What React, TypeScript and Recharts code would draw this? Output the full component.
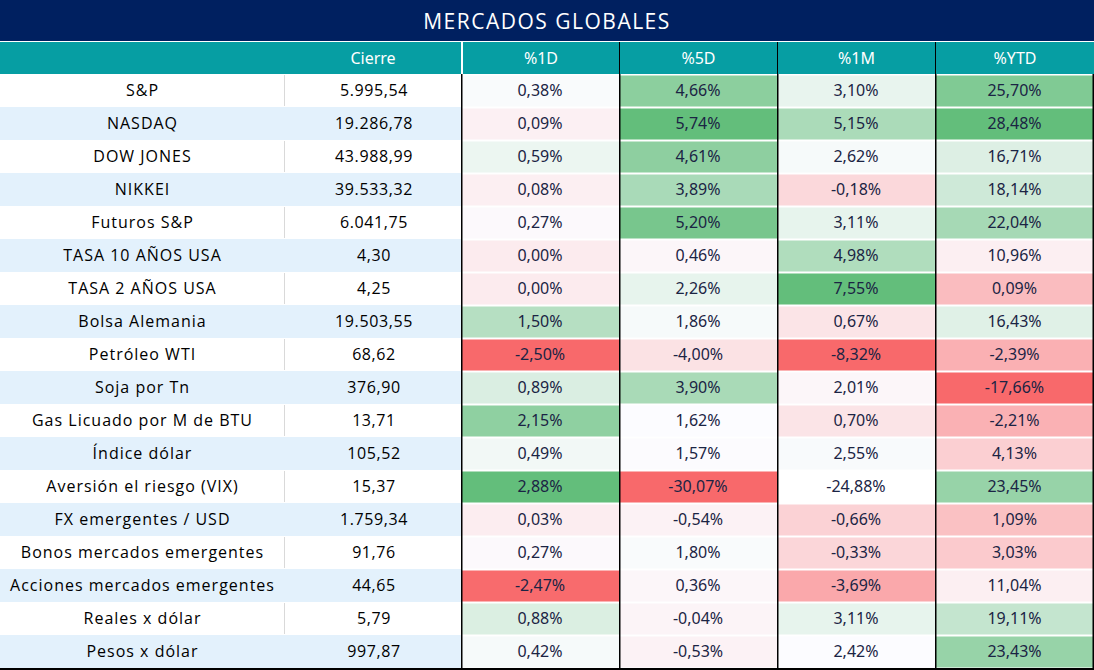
import React from 'react'
import { BarChart, Bar, XAxis, YAxis } from 'recharts'

// filas de la tabla
const labels = [
  'S&P', 'NASDAQ', 'DOW JONES', 'NIKKEI', 'Futuros S&P', 'TASA 10 AÑOS USA', 'TASA 2 AÑOS USA',
  'Bolsa Alemania', 'Petróleo WTI', 'Soja por Tn', 'Gas Licuado por M de BTU', 'Índice dólar',
  'Aversión el riesgo (VIX)', 'FX emergentes / USD', 'Bonos mercados emergentes',
  'Acciones mercados emergentes', 'Reales x dólar', 'Pesos x dólar',
]
const cierre = [
  5995.54, 19286.78, 43988.99, 39533.32, 6041.75, 4.3, 4.25, 19503.55, 68.62, 376.9,
  13.71, 105.52, 15.37, 1759.34, 91.76, 44.65, 5.79, 997.87,
]
const d1 = [0.38, 0.09, 0.59, 0.08, 0.27, 0.0, 0.0, 1.5, -2.5, 0.89, 2.15, 0.49, 2.88, 0.03, 0.27, -2.47, 0.88, 0.42]
const d5 = [4.66, 5.74, 4.61, 3.89, 5.2, 0.46, 2.26, 1.86, -4.0, 3.9, 1.62, 1.57, -30.07, -0.54, 1.8, 0.36, -0.04, -0.53]
const m1 = [3.1, 5.15, 2.62, -0.18, 3.11, 4.98, 7.55, 0.67, -8.32, 2.01, 0.7, 2.55, -24.88, -0.66, -0.33, -3.69, 3.11, 2.42]
const ytd = [25.7, 28.48, 16.71, 18.14, 22.04, 10.96, 0.09, 16.43, -2.39, -17.66, -2.21, 4.13, 23.45, 1.09, 3.03, 11.04, 19.11, 23.43]
// celda sin formato condicional en el original
const m1Unshaded = ['Aversión el riesgo (VIX)']

const headers = ['', 'Cierre', '%1D', '%5D', '%1M', '%YTD']
const colWidths = [285, 176, 158, 158, 158, 159]

const NAVY = '#002060'
const TEAL = '#069ea3'
const ROW_BLUE = '#e3f1fc'
const LABEL_FONT = "'Open Sans', sans-serif"

const RED = [248, 105, 107]
const MID = [252, 252, 255]
const GREEN = [99, 190, 123]

const mix = (a: number[], b: number[], t: number) =>
  `rgb(${a.map((c, i) => Math.round(c + (b[i] - c) * t)).join(',')})`

const median = (vals: number[]) => {
  const s = [...vals].sort((a, b) => a - b)
  const n = s.length
  return n % 2 ? s[(n - 1) / 2] : (s[n / 2 - 1] + s[n / 2]) / 2
}

// escala roja-blanca-verde estilo Excel (punto medio = percentil 50)
const makeScale = (vals: number[]) => {
  const min = Math.min(...vals)
  const max = Math.max(...vals)
  const mid = median(vals)
  return (v: number) => {
    if (v <= mid) return mix(RED, MID, mid === min ? 1 : (v - min) / (mid - min))
    return mix(MID, GREEN, max === mid ? 0 : (v - mid) / (max - mid))
  }
}

const scales = {
  d1: makeScale(d1),
  d5: makeScale(d5),
  m1: makeScale(m1.filter((_, i) => !m1Unshaded.includes(labels[i]))),
  ytd: makeScale(ytd),
}

const fmtNum = (v: number) =>
  v.toLocaleString('de-DE', { minimumFractionDigits: 2, maximumFractionDigits: 2 })
const fmtPct = (v: number) => v.toFixed(2).replace('.', ',') + '%'

const rows = labels.map((name, i) => ({
  name,
  cierre: cierre[i],
  d1: d1[i],
  d5: d5[i],
  m1: m1[i],
  ytd: ytd[i],
  wLabel: colWidths[0],
  wCierre: colWidths[1],
  wD1: colWidths[2],
  wD5: colWidths[3],
  wM1: colWidths[4],
  wYtd: colWidths[5],
}))

const LabelCell = (props: any) => {
  const { x, y, width, height, payload, index } = props
  const blue = index % 2 === 1
  return (
    <g>
      <rect x={x} y={y} width={width} height={height} fill={blue ? ROW_BLUE : '#fff'} />
      {!blue && <line x1={x + width - 0.5} x2={x + width - 0.5} y1={y + 1} y2={y + height - 1} stroke="#d9d9d9" />}
      <text x={x + width / 2} y={y + height / 2 + 1} textAnchor="middle" dominantBaseline="middle"
        fontFamily={LABEL_FONT} fontSize={16} letterSpacing={1} fill="#000">{payload.name}</text>
    </g>
  )
}

const CierreCell = (props: any) => {
  const { x, y, width, height, payload, index } = props
  const blue = index % 2 === 1
  return (
    <g>
      <rect x={x} y={y} width={width} height={height} fill={blue ? ROW_BLUE : '#fff'} />
      <text x={x + width / 2 + 1} y={y + height / 2 + 1} textAnchor="middle" dominantBaseline="middle"
        fontFamily={LABEL_FONT} fontSize={16} letterSpacing={0.6} fill="#000">{fmtNum(payload.cierre)}</text>
    </g>
  )
}

const pctCell = (key: 'd1' | 'd5' | 'm1' | 'ytd', last = false) => (props: any) => {
  const { x, y, width, height, payload } = props
  const v = payload[key] as number
  const unshaded = key === 'm1' && m1Unshaded.includes(payload.name)
  const fill = unshaded ? '#fff' : scales[key](v)
  return (
    <g>
      <rect x={x} y={y} width={width} height={height} fill="#fff" />
      <rect x={x} y={y + 1.5} width={width} height={height - 2} fill={fill} />
      <rect x={x} y={y} width={1.5} height={height} fill="#000" />
      {last && <rect x={x + width - 1.5} y={y} width={1.5} height={height} fill="#000" />}
      <text x={x + width / 2} y={y + height / 2 + 1} textAnchor="middle" dominantBaseline="middle"
        fontFamily="'Noto Sans', sans-serif" fontSize={16} fill="#1b2444">{fmtPct(v)}</text>
    </g>
  )
}

const App = () => {
  return (
    <div style={{ width: 1094, height: 670, position: 'relative', background: '#fff' }}>
      <style>{'body { margin: 0; }'}</style>
      <div style={{
        position: 'absolute', left: 0, top: 0, width: 1094, height: 41, background: NAVY, color: '#fff',
        display: 'flex', alignItems: 'center', justifyContent: 'center',
        fontFamily: "'Open Sans', sans-serif", fontSize: 21, fontWeight: 400, letterSpacing: 1.5,
      }}>
        MERCADOS GLOBALES
      </div>
      <div style={{ position: 'absolute', left: 0, top: 42, width: 1094, height: 32, background: TEAL, display: 'flex' }}>
        {headers.map((h, i) => (
          <div key={i} style={{
            width: colWidths[i], height: 32, boxSizing: 'border-box', color: '#fff',
            display: 'flex', alignItems: 'center', justifyContent: 'center',
            fontFamily: "'Noto Sans', sans-serif", fontSize: 16,
            borderLeft: i === 2 ? '2px solid #fff' : i > 2 ? '1.5px solid #000' : 'none',
          }}>{h}</div>
        ))}
      </div>
      <div style={{ position: 'absolute', left: 0, top: 74 }}>
        <BarChart width={1094} height={595} data={rows} layout="vertical"
          margin={{ top: 0, right: 0, bottom: 1, left: 0 }} barCategoryGap={0} barGap={0}>
          <XAxis type="number" domain={[0, 1094]} hide />
          <YAxis type="category" dataKey="name" hide width={0} />
          <Bar dataKey="wLabel" stackId="t" shape={LabelCell} isAnimationActive={false} />
          <Bar dataKey="wCierre" stackId="t" shape={CierreCell} isAnimationActive={false} />
          <Bar dataKey="wD1" stackId="t" shape={pctCell('d1')} isAnimationActive={false} />
          <Bar dataKey="wD5" stackId="t" shape={pctCell('d5')} isAnimationActive={false} />
          <Bar dataKey="wM1" stackId="t" shape={pctCell('m1')} isAnimationActive={false} />
          <Bar dataKey="wYtd" stackId="t" shape={pctCell('ytd', true)} isAnimationActive={false} />
        </BarChart>
      </div>
      <div style={{ position: 'absolute', left: 0, top: 668, width: 1094, height: 2, background: '#000' }} />
    </div>
  )
}

export default App
